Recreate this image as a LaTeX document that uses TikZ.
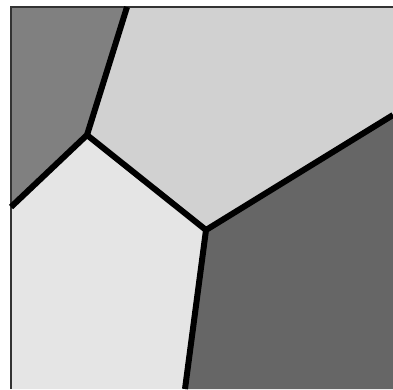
\documentclass[tikz,border=0pt]{standalone}
\usepackage{tikz}
\usetikzlibrary{calc}

\definecolor{cellA}{gray}{0.50}
\definecolor{cellB}{gray}{0.82}
\definecolor{cellC}{gray}{0.90}
\definecolor{cellD}{gray}{0.40}

\begin{document}
\begin{tikzpicture}[x=1pt, y=-1pt]

\useasboundingbox (0,0) rectangle (393,389);

% Corners and vertices
\coordinate (tl) at (11,7);
\coordinate (tr) at (393,7);
\coordinate (br) at (393,389);
\coordinate (bl) at (11,389);
\coordinate (top) at (127,7);
\coordinate (left) at (11,207);
\coordinate (right) at (393,115);
\coordinate (bottom) at (185,389);
\coordinate (va) at (87,135);
\coordinate (vb) at (206,230);

% Cells
\fill[cellA] (tl) -- (top) -- (va) -- (left) -- cycle;
\fill[cellB] (top) -- (tr) -- (right) -- (vb) -- (va) -- cycle;
\fill[cellC] (left) -- (va) -- (vb) -- (bottom) -- (bl) -- cycle;
\fill[cellD] (vb) -- (right) -- (br) -- (bottom) -- cycle;

% Frame
\draw[line width=1.5pt, black!80] (bl) -- (tl) -- (tr);

% Edges
\draw[line width=6pt, line join=round] (top) -- (va) -- (left);
\draw[line width=6pt, line join=round] (va) -- (vb) -- (right);
\draw[line width=6pt, line join=round] (vb) -- (bottom);

\end{tikzpicture}
\end{document}
